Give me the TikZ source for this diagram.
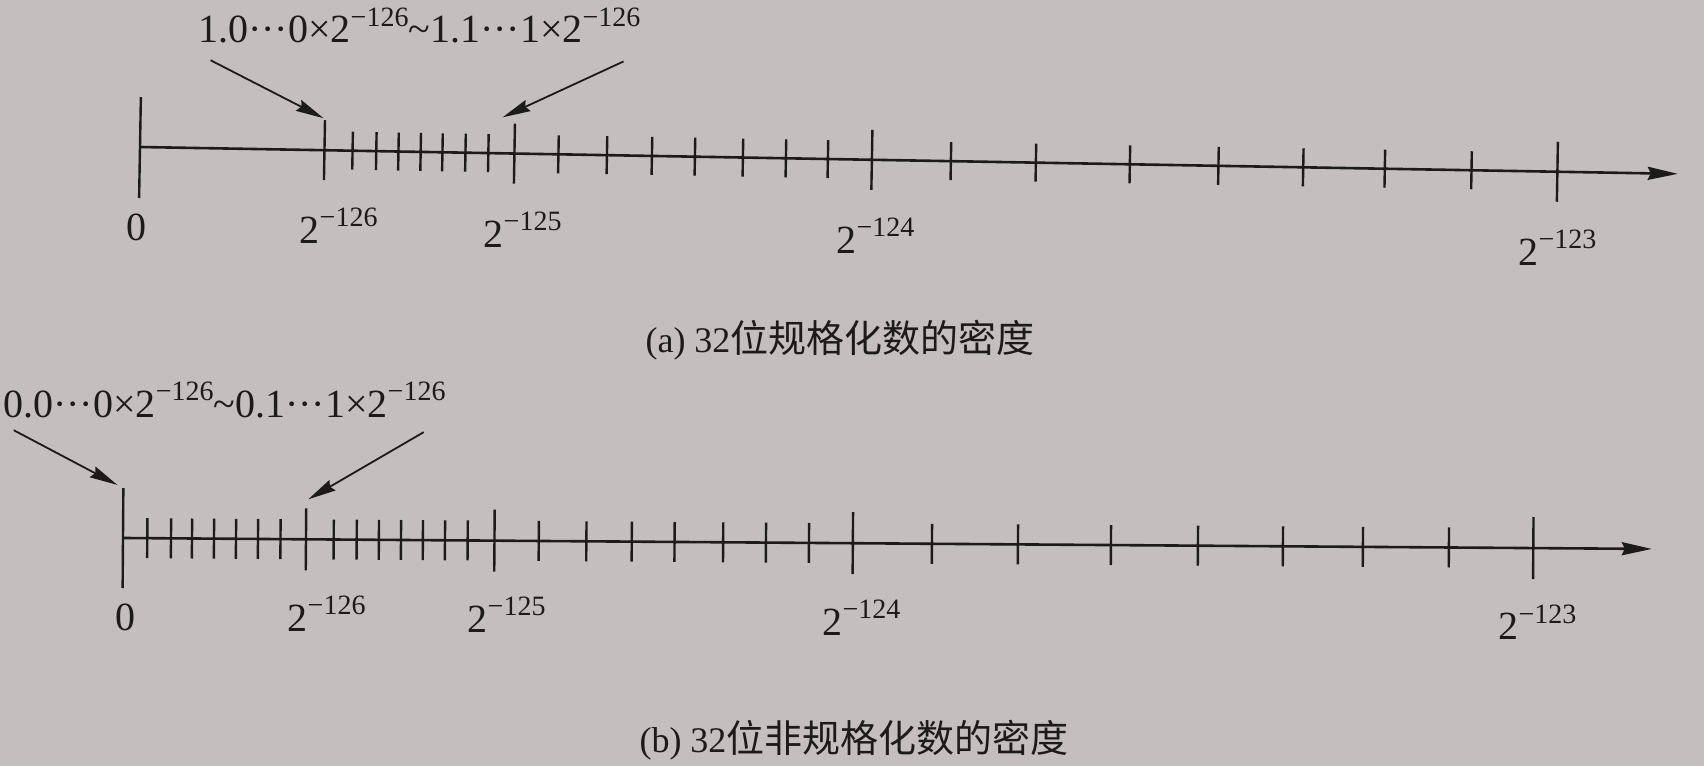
\documentclass[tikz,border=0pt]{standalone}
\usepackage{fontspec}
\usepackage{graphicx}
\setmainfont{Liberation Serif}
\newfontfamily\cjk{Noto Sans CJK SC}
\usetikzlibrary{arrows.meta}
\definecolor{paper}{RGB}{196,191,190}
\definecolor{ink}{RGB}{28,26,26}
\newcommand{\pwr}[1]{2\raisebox{0.42em}{\scalebox{0.7}{−#1}}}
\begin{document}
\begin{tikzpicture}[x=0.5pt,y=-0.5pt,
  axisline/.style={ink,line width=1.3pt,-{Stealth[length=15pt,width=6.5pt,inset=1.5pt]}},
  tickline/.style={ink,line width=1.2pt},
  annarrow/.style={ink,line width=0.9pt,-{Stealth[length=14pt,width=6pt,inset=1.5pt]}},
  lbl/.style={inner sep=0pt,text=ink,font=\fontsize{20pt}{22pt}\selectfont},
  captext/.style={inner sep=0pt,text=ink,font=\fontsize{18pt}{22pt}\selectfont}]
\fill[paper] (0,0) rectangle (1704,766);
\useasboundingbox (0,0) rectangle (1704,766);

% ---------- (a) ----------
\begin{scope}[rotate around={-1:(140,147)}]
  \coordinate (a0) at (140,147);
  \coordinate (aend) at (1678,147);
  \draw[axisline] (a0) -- (aend);
  \draw[tickline] (140,97) -- (140,198);
  \foreach \x in {324.5,514.5,872,1557.6}
    \draw[tickline] (\x,117) -- (\x,177);
  \foreach \x in {352.6,376.3,398.5,420.7,442.5,465.5,488.4,
                  558.5,607,652,695,743,786,828,
                  951,1036,1130,1218.6,1303.4,1385,1471.7}
    \draw[tickline] (\x,128) -- (\x,166);
  \coordinate (a126top) at (323,115);
  \coordinate (a125near) at (502,111);
  \node[lbl,anchor=base] (la0) at (138,241) {0};
  \node[lbl,anchor=base west] (la126) at (301,241) {\pwr{126}};
  \node[lbl,anchor=base west] (la125) at (485,241) {\pwr{125}};
  \node[lbl,anchor=base west] (la124) at (838,241) {\pwr{124}};
  \node[lbl,anchor=base west] (la123) at (1520,241) {\pwr{123}};
  \node[lbl,anchor=base west] (atop) at (196,42)
    {1.0···0×\pwr{126}\textasciitilde1.1···1×\pwr{126}};
  \coordinate (aarr1) at (209,59);
  \coordinate (aarr2) at (622,53);
  \draw[annarrow] (aarr1) -- (a126top);
  \draw[annarrow] (aarr2) -- (a125near);
\end{scope}
\node[captext] (capa) at (840,340) {(a) 32{\cjk\fontsize{19pt}{22pt}\selectfont 位规格化数的密度}};

% ---------- (b) ----------
\begin{scope}[rotate around={-0.41:(123,538)}]
  \coordinate (b0) at (123,538);
  \coordinate (bend) at (1652,538);
  \draw[axisline] (b0) -- (bend);
  \draw[tickline] (123,488) -- (123,588);
  \foreach \x in {306,494.5,852.9,1533.4}
    \draw[tickline] (\x,507) -- (\x,569);
  \foreach \x in {147.3,171,192,214,236,258,280.5,
                  333.7,356.7,378.9,401,422.9,445,467.7,
                  538.8,586.4,631.8,674.6,723.2,766,809,
                  932,1018,1111,1198,1283,1363,1449}
    \draw[tickline] (\x,518) -- (\x,558);
  \coordinate (b0top) at (117,485);
  \coordinate (b126near) at (308,498);
  \node[lbl,anchor=base] (lb0) at (126,630) {0};
  \node[lbl,anchor=base west] (lb126) at (288,630) {\pwr{126}};
  \node[lbl,anchor=base west] (lb125) at (468,630) {\pwr{125}};
  \node[lbl,anchor=base west] (lb124) at (823,630) {\pwr{124}};
  \node[lbl,anchor=base west] (lb123) at (1499,630) {\pwr{123}};
  \node[lbl,anchor=base west] (btop) at (2,418)
    {0.0···0×\pwr{126}\textasciitilde0.1···1×\pwr{126}};
  \coordinate (barr1) at (13,431);
  \coordinate (barr2) at (423,430);
  \draw[annarrow] (barr1) -- (b0top);
  \draw[annarrow] (barr2) -- (b126near);
\end{scope}
\node[captext] (capb) at (854,740) {(b) 32{\cjk\fontsize{19pt}{22pt}\selectfont 位非规格化数的密度}};
\end{tikzpicture}
\end{document}
